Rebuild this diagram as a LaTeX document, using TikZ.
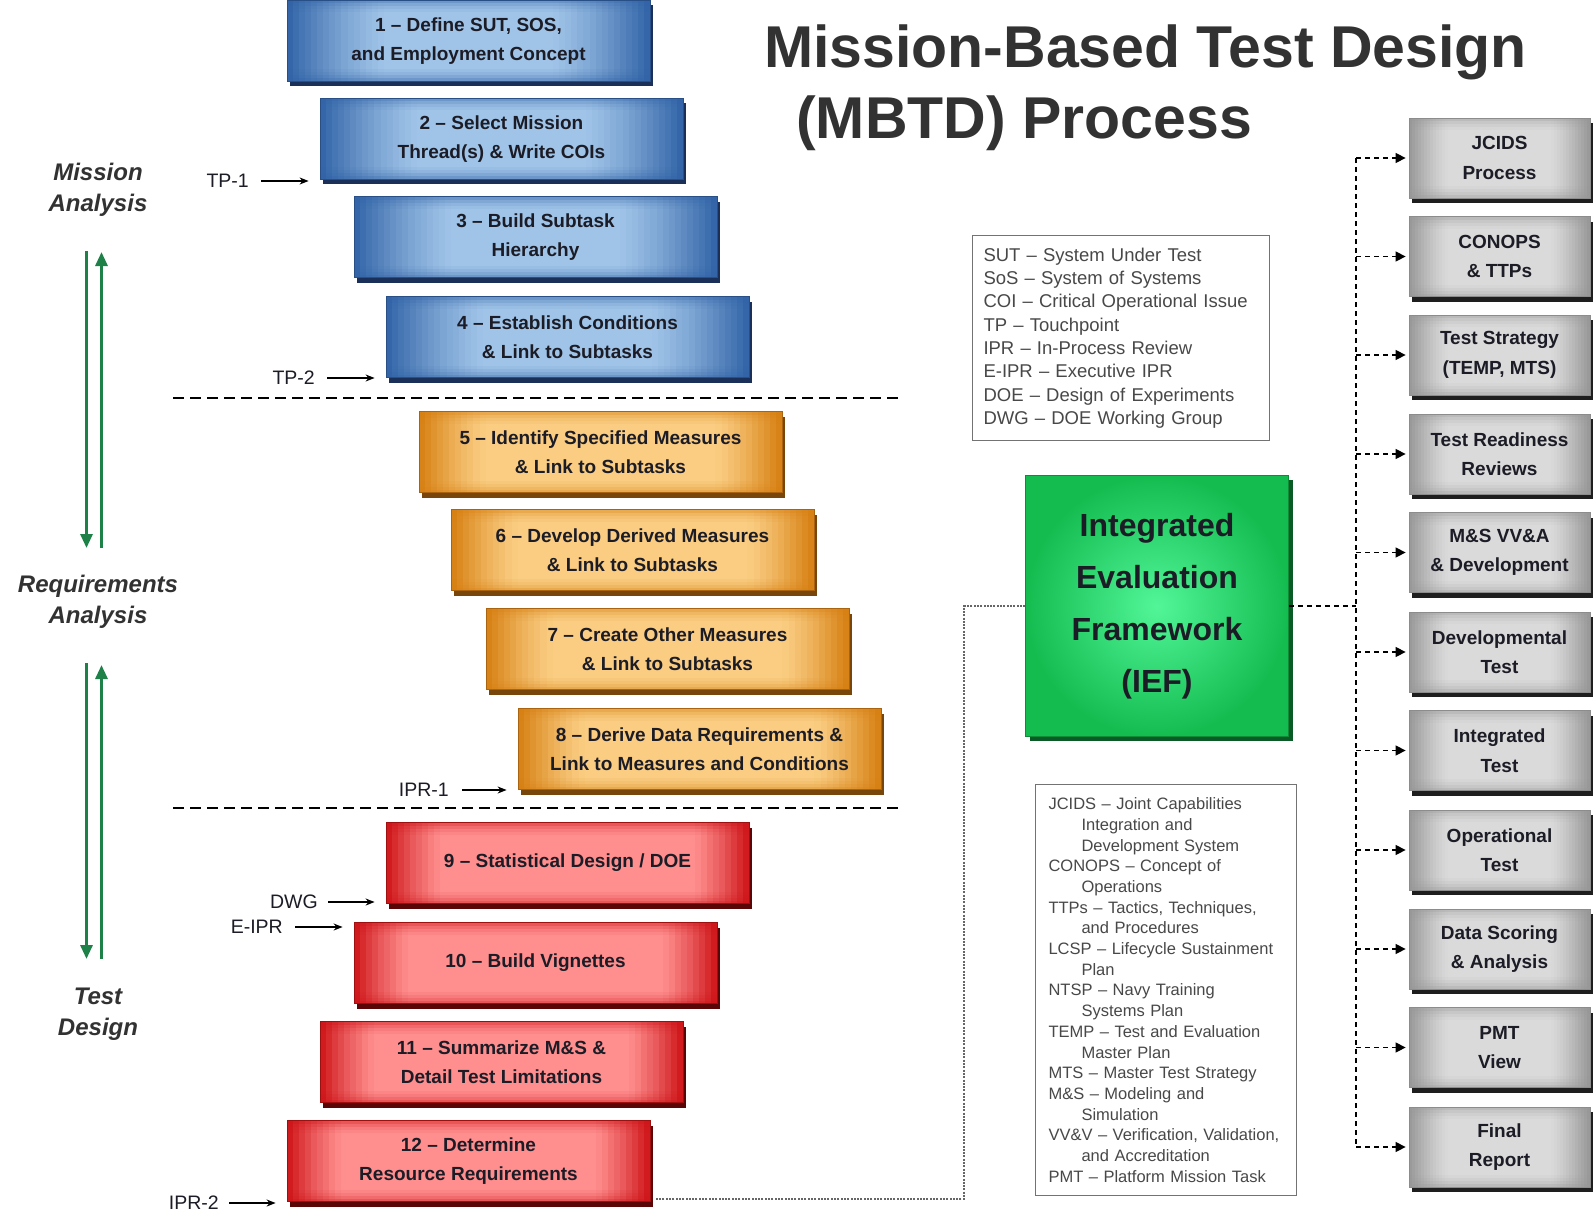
\documentclass[tikz,border=0pt]{standalone}
\usepackage{fontspec}
\setmainfont{Liberation Sans}
\usetikzlibrary{shadows,arrows.meta,calc}

\definecolor{blueE}{RGB}{48,98,166}
\definecolor{blueM}{RGB}{160,196,232}
\definecolor{blueD}{RGB}{40,80,135}
\definecolor{blueS}{RGB}{26,48,88}
\definecolor{orgE}{RGB}{214,126,16}
\definecolor{orgM}{RGB}{250,205,130}
\definecolor{orgD}{RGB}{170,100,15}
\definecolor{orgS}{RGB}{120,70,10}
\definecolor{redE}{RGB}{205,18,22}
\definecolor{redM}{RGB}{255,142,142}
\definecolor{redD}{RGB}{160,15,15}
\definecolor{redS}{RGB}{90,6,6}
\definecolor{grnE}{RGB}{20,188,80}
\definecolor{grnM}{RGB}{82,246,152}
\definecolor{grnD}{RGB}{15,140,55}
\definecolor{grnS}{RGB}{10,90,38}
\definecolor{gryE}{RGB}{150,150,150}
\definecolor{gryM}{RGB}{218,218,218}
\definecolor{gryD}{RGB}{140,140,140}
\definecolor{gryS}{RGB}{30,30,30}
\definecolor{arrgreen}{RGB}{30,130,72}
\definecolor{txtdark}{RGB}{28,28,38}
\definecolor{txtgray}{RGB}{72,72,72}
\definecolor{titlegray}{RGB}{50,50,50}

\newcommand\myPfont{\fontsize{19}{29}\selectfont\bfseries}
\newcommand\myGfont{\fontsize{19}{29.5}\selectfont\bfseries}
\newcommand\myLfont{\fontsize{19.5}{22}\selectfont}
\newcommand\mySfont{\fontsize{24}{30.5}\selectfont\bfseries\itshape}
\newcommand\myAfont{\fontsize{18.5}{23.3}\selectfont}
\newcommand\myBfont{\fontsize{16.5}{20.7}\selectfont}
\newcommand\myIfont{\fontsize{32}{52}\selectfont\bfseries}
\newcommand\myTfont{\fontsize{59}{71}\selectfont\bfseries}

\tikzset{
  grad/.style n args={3}{path picture={
    \foreach \i in {0,...,59}{
      \pgfmathsetmacro\gA{\i/60}
      \pgfmathsetmacro\gB{(\i+1.15)/60}
      \pgfmathsetmacro\gT{abs(\i+0.5-30)/30}
      \pgfmathtruncatemacro\gP{min(100,100*(max(0.001,\gT-#3)/(1-#3))^1.3)}
      \fill[#1!\gP!#2] ($(path picture bounding box.south west)!\gA!(path picture bounding box.south east)$)
        rectangle ($(path picture bounding box.north west)!\gB!(path picture bounding box.north east)$);
    }
    \foreach \k/\o in {0/0.45,1/0.28,2/0.15,3/0.06}{
      \fill[#1, opacity=\o] ($(path picture bounding box.north west)+(0,-3*\k)$)
        rectangle ($(path picture bounding box.north east)+(0,-3*\k-3)$);
      \fill[#1, opacity=\o] ($(path picture bounding box.south west)+(0,3*\k)$)
        rectangle ($(path picture bounding box.south east)+(0,3*\k+3)$);
    }
  }},
  pbox/.style={rectangle, minimum width=363pt, minimum height=81pt, inner sep=0pt,
    align=center, font=\myPfont, text=txtdark, line width=0.8pt},
  bluebox/.style={pbox, draw=blueD, grad={blueE}{blueM}{0.45},
    drop shadow={shadow xshift=3pt, shadow yshift=-5pt, fill=blueS, opacity=1}},
  orgbox/.style={pbox, draw=orgD, grad={orgE}{orgM}{0.62},
    drop shadow={shadow xshift=3pt, shadow yshift=-5pt, fill=orgS, opacity=1}},
  redbox/.style={pbox, draw=redD, grad={redE}{redM}{0.68},
    drop shadow={shadow xshift=3pt, shadow yshift=-5pt, fill=redS, opacity=1}},
  graybox/.style={rectangle, minimum width=181pt, minimum height=80pt, inner sep=0pt,
    align=center, font=\myGfont, text=txtdark, draw=gryD, line width=0.8pt,
    grad={gryE}{gryM}{0.55},
    drop shadow={shadow xshift=3pt, shadow yshift=-5pt, fill=gryS, opacity=1}},
  iefbox/.style={rectangle, minimum width=263pt, minimum height=261pt, inner sep=0pt,
    align=center, font=\myIfont, text=txtdark, draw=grnD, line width=0.8pt,
    inner color=grnM, outer color=grnE,
    drop shadow={shadow xshift=4pt, shadow yshift=-4pt, fill=grnS, opacity=1}},
  lbl/.style={inner sep=0pt, font=\myLfont, text=txtdark},
  phase/.style={inner sep=0pt, align=center, font=\mySfont, text=titlegray},
  legend/.style={rectangle, draw=black!55, line width=1pt, fill=white, align=left, text=txtgray},
  tparrow/.style={line width=1.4pt, -{Stealth[length=9pt,width=7pt]}},
  garrow/.style={draw=arrgreen, line width=3pt, -{Triangle[length=14pt,width=12pt]}},
  sepline/.style={line width=1.4pt, dash pattern=on 11pt off 6pt},
  busline/.style={line width=1.3pt, dash pattern=on 5pt off 4pt},
  busarrow/.style={busline, -{Triangle[length=10pt,width=10pt]}},
  feedline/.style={line width=1.3pt, draw=black!60, dash pattern=on 2pt off 1.3pt},
  titletext/.style={inner sep=0pt, anchor=base west, font=\myTfont, text=titlegray}
}

\begin{document}
\begin{tikzpicture}[x=1pt,y=1pt]
\useasboundingbox[fill=white] (0,-1217) rectangle (1594,0);

% Title
\node[titletext] (t1) at (764,-68) {Mission-Based Test Design};
\node[titletext] (t2) at (796,-139) {(MBTD) Process};

% Process boxes
\node[bluebox] (b1) at (468.5,-41) {1 -- Define SUT,  SOS,\\and Employment Concept};
\node[bluebox] (b2) at (501.5,-139) {2 -- Select Mission\\Thread(s) \& Write COIs};
\node[bluebox] (b3) at (535.5,-237) {3 -- Build  Subtask\\Hierarchy};
\node[bluebox] (b4) at (567.5,-337) {4 -- Establish Conditions\\\& Link to Subtasks};
\node[orgbox] (b5) at (600.5,-452) {5 -- Identify Specified Measures\\\& Link to Subtasks};
\node[orgbox] (b6) at (632.5,-550) {6 -- Develop Derived Measures\\\& Link to Subtasks};
\node[orgbox] (b7) at (667.5,-649) {7 -- Create Other Measures\\\& Link to Subtasks};
\node[orgbox] (b8) at (699.5,-749) {8 -- Derive Data Requirements \&\\Link to Measures and Conditions};
\node[redbox] (b9) at (567.5,-863) {9 -- Statistical Design / DOE};
\node[redbox] (b10) at (535.5,-963) {10 -- Build Vignettes};
\node[redbox] (b11) at (501.5,-1062) {11 -- Summarize M\&S \&\\Detail Test Limitations};
\node[redbox] (b12) at (468.5,-1161) {12 -- Determine\\Resource Requirements};

% Phase separators
\draw[sepline] (173,-398) -- (900,-398);
\draw[sepline] (173,-808) -- (900,-808);

% Phase labels
\node[phase] (ph1) at (98,-190) {Mission\\Analysis};
\node[phase] (ph2) at (98,-602) {Requirements\\Analysis};
\node[phase] (ph3) at (98,-1014) {Test\\Design};

% Green arrows
\coordinate (ga1) at (86.5,-251);
\coordinate (ga2) at (86.5,-548);
\coordinate (ga3) at (101.5,-548);
\coordinate (ga4) at (101.5,-252);
\draw[garrow] (ga1) -- (ga2);
\draw[garrow] (ga3) -- (ga4);
\coordinate (gb1) at (86.5,-663);
\coordinate (gb2) at (86.5,-959);
\coordinate (gb3) at (101.5,-959);
\coordinate (gb4) at (101.5,-665);
\draw[garrow] (gb1) -- (gb2);
\draw[garrow] (gb3) -- (gb4);

% Touchpoint labels
\node[lbl, anchor=east] (tp1) at (249,-181) {TP-1};
\node[lbl, anchor=east] (tp2) at (315,-378) {TP-2};
\node[lbl, anchor=east] (ipr1) at (449,-790) {IPR-1};
\node[lbl, anchor=east] (dwg) at (318,-902) {DWG};
\node[lbl, anchor=east] (eipr) at (283,-927) {E-IPR};
\node[lbl, anchor=east] (ipr2) at (219,-1203) {IPR-2};
\draw[tparrow] ([xshift=12pt]tp1.east) -- ([xshift=-11pt]tp1.east -| b2.west);
\draw[tparrow] ([xshift=12pt]tp2.east) -- ([xshift=-11pt]tp2.east -| b4.west);
\draw[tparrow] ([xshift=13pt]ipr1.east) -- ([xshift=-11pt]ipr1.east -| b8.west);
\draw[tparrow] ([xshift=10pt]dwg.east) -- ([xshift=-11pt]dwg.east -| b9.west);
\draw[tparrow] ([xshift=12pt]eipr.east) -- ([xshift=-11pt]eipr.east -| b10.west);
\draw[tparrow] ([xshift=10pt]ipr2.east) -- ([xshift=-11pt]ipr2.east -| b12.west);

% Legend 1
\node[legend, anchor=north west, font=\myAfont, text width=275pt, inner xsep=11pt,
      minimum width=297pt, minimum height=205pt] (leg1) at (972,-235)
{SUT\ -- System\ Under\ Test\\
SoS -- System\ of Systems\\
COI\ -- Critical\ Operational\ Issue\\
TP\ -- Touchpoint\\
IPR\ -- In-Process\ Review\\
E-IPR\ -- Executive\ IPR\\
DOE\ -- Design\ of Experiments\\
DWG -- DOE\ Working\ Group};

% Legend 2
\node[legend, anchor=north west, font=\myBfont, text width=235pt, inner xsep=13pt,
      minimum width=261pt, minimum height=411pt] (leg2) at (1035,-784)
{JCIDS -- Joint Capabilities\\
\hspace*{33pt}Integration and\\
\hspace*{33pt}Development System\\
CONOPS -- Concept of\\
\hspace*{33pt}Operations\\
TTPs -- Tactics, Techniques,\\
\hspace*{33pt}and Procedures\\
LCSP -- Lifecycle Sustainment\\
\hspace*{33pt}Plan\\
NTSP -- Navy Training\\
\hspace*{33pt}Systems Plan\\
TEMP -- Test and Evaluation\\
\hspace*{33pt}Master Plan\\
MTS -- Master Test Strategy\\
M\&S -- Modeling and\\
\hspace*{33pt}Simulation\\
VV\&V -- Verification, Validation,\\
\hspace*{33pt}and Accreditation\\
PMT -- Platform Mission Task};

% IEF
\node[iefbox] (ief) at (1157,-606) {Integrated\\Evaluation\\Framework\\(IEF)};

% Right column boxes
\node[graybox] (g1) at (1499.5,-158) {JCIDS\\Process};
\node[graybox] (g2) at (1499.5,-256.5) {CONOPS\\\& TTPs};
\node[graybox] (g3) at (1499.5,-355) {Test Strategy\\(TEMP,  MTS)};
\node[graybox] (g4) at (1499.5,-454) {Test Readiness\\Reviews};
\node[graybox] (g5) at (1499.5,-552.5) {M\&S VV\&A\\\& Development};
\node[graybox] (g6) at (1499.5,-652) {Developmental\\Test};
\node[graybox] (g7) at (1499.5,-750.5) {Integrated\\Test};
\node[graybox] (g8) at (1499.5,-850) {Operational\\Test};
\node[graybox] (g9) at (1499.5,-949) {Data  Scoring\\\& Analysis};
\node[graybox] (g10) at (1499.5,-1047.5) {PMT\\View};
\node[graybox] (g11) at (1499.5,-1147) {Final\\Report};

% Distribution bus
\coordinate (bus) at (1356,0);
\draw[busline] (bus |- g1.west) -- (bus |- g11.west);
\draw[busline] (ief.east) -- (ief.east -| bus);
\foreach \g in {g1,g2,g3,g4,g5,g6,g7,g8,g9,g10,g11}{
  \draw[busarrow, shorten >=3pt] (bus |- \g.west) -- (\g.west);
}

% Feed from step 12 to IEF
\coordinate (fj1) at (964,-606);
\coordinate (fj2) at (964,-1199);
\draw[feedline] (ief.west) -- (fj1) -- (fj2) -- ([xshift=6pt]fj2 -| b12.east);

\end{tikzpicture}
\end{document}
